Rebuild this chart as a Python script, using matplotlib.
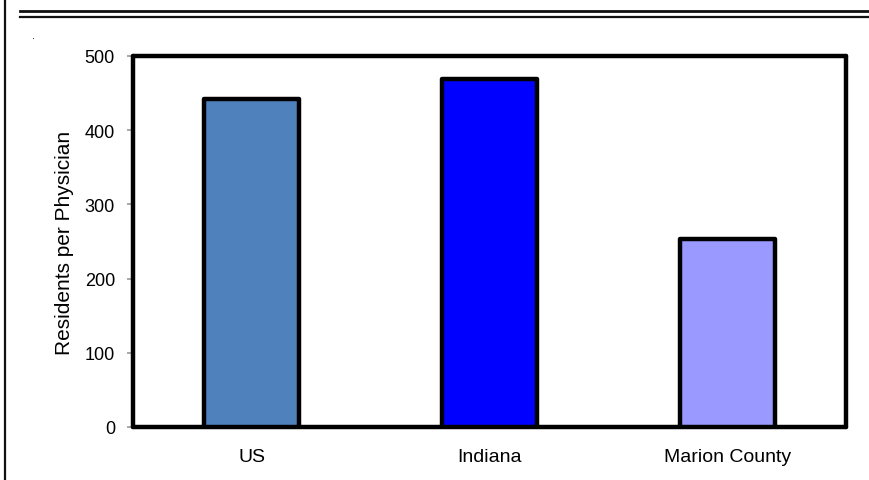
import matplotlib
matplotlib.use("Agg")
import matplotlib.pyplot as plt
from matplotlib.lines import Line2D

# data
regions = ["US", "Indiana", "Marion County"]
residents_per_physician = [442, 469, 253]
bar_colors = ["#4F81BD", "#0000FF", "#9999FF"]
yticks = [0, 100, 200, 300, 400, 500]

plt.rcParams['font.family'] = ['Liberation Sans', 'DejaVu Sans']

fig = plt.figure(figsize=(8.7, 4.81), dpi=100)
ax = fig.add_axes([133 / 870, 1 - 428 / 481, (846 - 133) / 870, (428 - 57) / 481])

bars = ax.bar(range(len(regions)), residents_per_physician, width=0.4,
              color=bar_colors, edgecolor="black", linewidth=3.2, zorder=3)
for b in bars:
    b.set_joinstyle("round")

ax.set_xlim(-0.5, 2.5)
ax.set_ylim(0, 500)
ax.set_yticks(yticks)
ax.set_xticks(range(len(regions)))
ax.set_xticklabels(regions, fontsize=14)
ax.tick_params(axis="x", length=0, pad=15)
ax.tick_params(axis="y", length=4, width=1.2, color="#999999", labelsize=13, pad=9)
for s in ax.spines.values():
    s.set_linewidth(3.2)
    s.set_color("black")
    s.set_capstyle("round")
ax.set_ylabel("Residents per Physician", fontsize=15, labelpad=8)

# page decoration: left rule and double rule under the (cut-off) title
fig.add_artist(Line2D([5 / 870, 5 / 870], [0, 1], color="#111111", linewidth=1.6))
fig.add_artist(Line2D([20 / 870, 868 / 870], [1 - 12 / 481, 1 - 12 / 481], color="#111111", linewidth=2))
fig.add_artist(Line2D([20 / 870, 868 / 870], [1 - 17.5 / 481, 1 - 17.5 / 481], color="#111111", linewidth=1.6))
fig.text(34 / 870, 1 - 36 / 481, ".", fontsize=8, ha="center", va="center")

fig.savefig("out.png", dpi=100)
